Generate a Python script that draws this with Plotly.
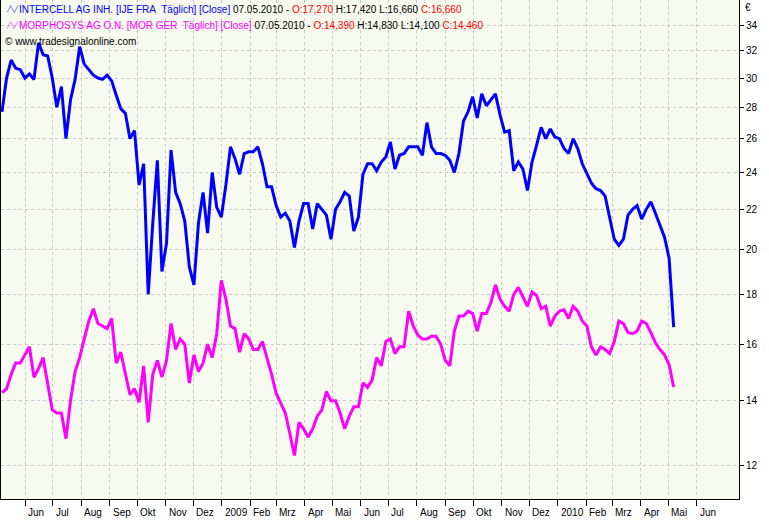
import math
import pandas as pd
import plotly.graph_objects as go

# daily closes (every ~5 days)
dates = pd.date_range("2008-05-07", "2010-05-07", periods=148)

intercell = [
    27.7, 30.0, 31.3, 30.7, 30.6, 30.0, 30.3, 29.9, 32.6, 31.7,
    31.6, 30.0, 28.0, 29.4, 26.0, 28.5, 29.9, 32.3, 31.0, 30.6,
    30.2, 30.0, 29.9, 30.2, 29.8, 28.8, 27.9, 27.6, 26.0, 26.5,
    23.3, 24.5, 18.0, 21.3, 24.7, 19.0, 20.3, 25.3, 22.9, 22.3,
    21.4, 19.2, 18.4, 21.3, 22.9, 20.8, 24.0, 22.1, 21.6, 23.3,
    25.5, 24.8, 23.9, 25.1, 25.2, 25.2, 25.5, 24.5, 23.2, 23.2,
    22.2, 21.6, 21.8, 21.4, 20.1, 21.4, 22.3, 22.3, 21.0, 22.3,
    22.0, 21.7, 20.5, 22.0, 22.4, 22.9, 22.7, 20.9, 21.6, 23.9,
    24.5, 24.5, 24.1, 24.6, 24.9, 25.8, 24.2, 25.0, 25.1, 25.5,
    25.5, 25.5, 25.0, 27.0, 25.5, 25.1, 25.1, 25.0, 24.7, 24.0,
    25.1, 27.1, 27.7, 28.7, 27.3, 28.9, 28.1, 28.5, 28.9, 27.5,
    26.4, 26.5, 24.1, 24.6, 24.2, 23.0, 24.6, 25.6, 26.7, 26.0,
    26.6, 26.1, 26.0, 25.4, 25.1, 26.0, 25.4, 24.5, 23.9, 23.4,
    23.1, 23.0, 22.7, 21.5, 20.5, 20.2, 20.5, 21.7, 22.0, 22.2,
    21.5, 22.0, 22.4, 21.8, 21.2, 20.6, 19.6, 16.66,
]

morphosys = [
    14.27, 14.4, 14.9, 15.3, 15.3, 15.6, 15.9, 14.8, 15.1, 15.5,
    14.6, 13.7, 13.6, 13.6, 12.8, 14.0, 15.0, 15.5, 16.2, 16.9,
    17.4, 16.8, 16.7, 16.6, 17.0, 15.3, 15.7, 14.9, 14.2, 14.4,
    13.95, 15.2, 13.3, 14.9, 15.4, 14.8, 15.4, 16.8, 15.8, 16.2,
    16.0, 14.6, 15.6, 15.0, 15.3, 16.0, 15.5, 16.4, 18.6, 17.8,
    16.7, 16.6, 15.7, 16.4, 16.2, 15.8, 15.8, 16.1, 15.5, 14.9,
    14.25, 13.9, 13.6, 12.95, 12.3, 13.3, 13.1, 12.85, 13.1, 13.5,
    13.7, 14.3, 14.0, 14.0, 13.6, 13.1, 13.5, 13.8, 13.8, 14.6,
    14.45, 14.7, 15.5, 15.2, 16.1, 16.2, 15.65, 15.9, 15.9, 17.3,
    16.7, 16.35, 16.2, 16.2, 16.3, 16.3, 16.0, 15.4, 15.2, 16.5,
    17.1, 17.1, 17.3, 17.2, 16.5, 17.2, 17.2, 17.65, 18.4, 17.8,
    17.5, 17.3, 18.0, 18.3, 17.9, 17.5, 18.1, 17.95, 17.4, 17.5,
    16.7, 17.1, 17.3, 17.35, 17.0, 17.5, 17.3, 16.9, 16.7, 15.9,
    15.6, 15.9, 15.8, 15.65, 16.1, 16.9, 16.8, 16.45, 16.4, 16.5,
    16.9, 16.8, 16.45, 16.05, 15.8, 15.6, 15.25, 14.46,
]

month_starts = [
    "2008-06-01", "2008-07-01", "2008-08-01", "2008-09-01", "2008-10-01",
    "2008-11-01", "2008-12-01", "2009-01-01", "2009-02-01", "2009-03-01",
    "2009-04-01", "2009-05-01", "2009-06-01", "2009-07-01", "2009-08-01",
    "2009-09-01", "2009-10-01", "2009-11-01", "2009-12-01", "2010-01-01",
    "2010-02-01", "2010-03-01", "2010-04-01", "2010-05-01", "2010-06-01",
]
month_labels = [
    "Jun", "Jul", "Aug", "Sep", "Okt", "Nov", "Dez", "2009", "Feb", "Mrz",
    "Apr", "Mai", "Jun", "Jul", "Aug", "Sep", "Okt", "Nov", "Dez", "2010",
    "Feb", "Mrz", "Apr", "Mai", "Jun",
]
price_ticks = [12, 14, 16, 18, 20, 22, 24, 26, 28, 30, 32, 34]

BLUE = "#0000FF"
MAGENTA = "#FF00FF"
RED = "#FF0000"
FONT = "Liberation Sans"

fig = go.Figure()
fig.add_trace(go.Scatter(x=dates, y=intercell, mode="lines",
                         line=dict(color=BLUE, width=3), name="INTERCELL"))
fig.add_trace(go.Scatter(x=dates, y=morphosys, mode="lines",
                         line=dict(color=MAGENTA, width=3), name="MORPHOSYS"))

line1 = ('<span style="color:%s">INTERCELL AG INH. [IJE FRA\u00a0 Täglich] [Close]</span>'
         ' 07.05.2010 - <span style="color:%s">O:17,270</span> H:17,420 L:16,660 '
         '<span style="color:%s">C:16,660</span>') % (BLUE, RED, RED)
line2 = ('<span style="color:%s">MORPHOSYS AG O.N. [MOR GER\u00a0 Täglich] [Close]</span>'
         ' 07.05.2010 - <span style="color:%s">O:14,390</span> H:14,830 L:14,100 '
         '<span style="color:%s">C:14,460</span>') % (MAGENTA, RED, RED)

header = [(line1, -9, 16), (line2, -25, 16), ("© www.tradesignalonline.com", -41, 2)]
for txt, dy, dx in header:
    fig.add_annotation(xref="paper", yref="paper", x=0, y=1, text=txt,
                       showarrow=False, xanchor="left", yanchor="middle",
                       xshift=dx, yshift=dy, font=dict(family=FONT, size=10, color="black"))

# small series icons in front of the header lines
for col, dy in [(BLUE, -9), (MAGENTA, -25)]:
    fig.add_annotation(xref="paper", yref="paper", x=0, y=1, text="╱╲╱",
                       showarrow=False, xanchor="left", yanchor="middle",
                       xshift=3, yshift=dy, font=dict(family="DejaVu Sans", size=6, color=col))

# month labels sit just right of their tick mark
for d, lab in zip(month_starts, month_labels):
    fig.add_annotation(x=d, xref="x", yref="paper", y=0, text=lab,
                       showarrow=False, xanchor="left", yanchor="top",
                       xshift=1, yshift=-6, font=dict(family=FONT, size=10, color="black"))

fig.add_annotation(xref="paper", yref="paper", x=1, y=1, text="€",
                   showarrow=False, xanchor="left", yanchor="top",
                   xshift=4, yshift=0, font=dict(family=FONT, size=10, color="black"))

fig.update_xaxes(
    type="date",
    range=["2008-05-05 22:00", "2010-07-17"],
    tickvals=month_starts,
    showticklabels=False,
    ticks="outside", ticklen=6, tickcolor="black",
    showgrid=True, gridcolor="#C8C8C8", griddash="dot", gridwidth=1,
    showline=True, linecolor="black", linewidth=1,
    zeroline=False,
)
fig.update_yaxes(
    type="log",
    range=[math.log10(11.10), math.log10(36.07)],
    side="right",
    tickvals=price_ticks,
    ticktext=[str(v) for v in price_ticks],
    ticks="outside", ticklen=4, tickcolor="black",
    tickfont=dict(family=FONT, size=10, color="black"),
    showgrid=True, gridcolor="#C8C8C8", griddash="dot", gridwidth=1,
    showline=True, linecolor="black", linewidth=1, mirror=True,
    zeroline=False,
)

fig.update_layout(
    width=769, height=520,
    margin=dict(l=1, r=30, t=0, b=21),
    plot_bgcolor="#F7FAEF",
    paper_bgcolor="#FFFFFF",
    showlegend=False,
    font=dict(family=FONT, size=10, color="black"),
)

# the page's default 8px body margin would push the chart off the window
fig.write_html("out.html", config={"displayModeBar": False},
               post_script="document.body.style.margin='0';")
